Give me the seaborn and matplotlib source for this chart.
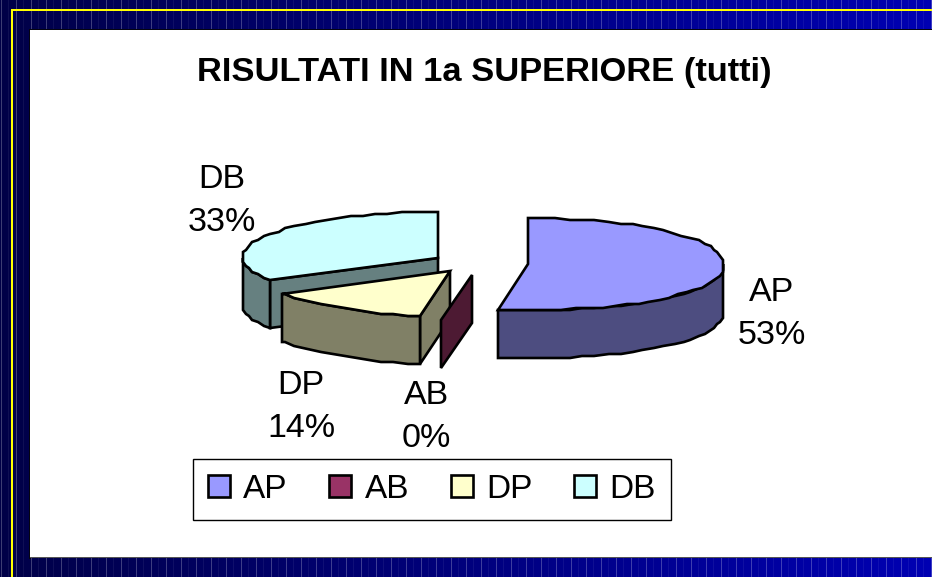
import numpy as np
import seaborn as sns
import matplotlib.pyplot as plt
from matplotlib.colors import to_rgb
from matplotlib.patches import Patch, Rectangle

titolo = "RISULTATI IN 1a SUPERIORE (tutti)"
categorie = ["AP", "AB", "DP", "DB"]
percentuali = [53, 0, 14, 33]
colori = ["#9999FF", "#993366", "#FFFFCC", "#CCFFFF"]

# stile: posizione del vertice di ogni fetta e delle etichette (pixel)
vertici = [(528, 264), (472, 275), (450, 271), (438, 258)]
pos_etichette = [(772, 314), (426, 417), (301, 407), (222, 201)]
rx, ry, spessore = 196, 46, 48

sns.set_theme(style="white")
plt.rcParams["font.family"] = ["Liberation Sans", "DejaVu Sans"]

fig = plt.figure(figsize=(9.32, 5.77), dpi=100)
ax = fig.add_axes([0, 0, 1, 1])

# sfondo blu a righe verticali
t = np.linspace(0, 1, 932)
sfondo = np.zeros((1, 932, 3))
sfondo[0, :, 2] = 0.28 + 0.42 * t
righe = np.zeros(932)
righe[1::15] = 0.24
righe[8::15] = 0.06
sfondo[0] = sfondo[0] + righe[:, None] * (1 - sfondo[0])
ax.imshow(sfondo, extent=(0, 932, 577, 0), aspect="auto", interpolation="nearest", zorder=0)
ax.add_patch(Rectangle((11, 9), 921, 2, color="#FFFF00", lw=0, antialiased=False, zorder=1))
ax.add_patch(Rectangle((11, 9), 2, 568, color="#FFFF00", lw=0, antialiased=False, zorder=1))
ax.add_patch(Rectangle((28.5, 28.5), 904, 2, color="#050510", lw=0, zorder=1))
ax.add_patch(Rectangle((28.5, 28.5), 2, 530, color="#050510", lw=0, zorder=1))
ax.add_patch(Rectangle((30, 30), 902, 527, color="white", lw=0, zorder=2))
ax.add_patch(Rectangle((30, 556.5), 902, 1.6, color="#555555", lw=0, zorder=2))


def scurisci(col):
    return tuple(c * 0.5 for c in to_rgb(col))


def ellisse(c, a, b):
    # arco dell'ellisse, leggero scorcio nella parte davanti, punti arrotondati come nel metafile
    th = np.radians(np.r_[np.arange(a, b, 4.0), b])
    x = c[0] + rx * np.sin(th) + 7 * np.maximum(0, -np.cos(th))
    y = c[1] - ry * np.cos(th)
    return np.round(x / 3) * 3, np.round(y / 2) * 2


bordo = dict(edgecolor="black", linewidth=1.9, joinstyle="miter")
cum = np.cumsum([0] + percentuali) * 3.6

# ordine di disegno: dalla fetta dietro a quella davanti
for i in [3, 2, 1, 0]:
    a, b = cum[i], cum[i + 1]
    c = vertici[i]
    col = colori[i]
    sc = scurisci(col)
    z = 5 + (3 - i)
    # parete radiale visibile
    if i > 0:
        ex, ey = ellisse(c, a, a)
        ax.fill([c[0], ex[0], ex[0], c[0]], [c[1], ey[0], ey[0] + spessore, c[1] + spessore], facecolor=sc, zorder=z, **bordo)
    if b > a:
        # parete esterna: solo la parte sotto l'ellisse (90-270 gradi)
        ea, eb = max(a, 90), min(b, 270)
        x, y = ellisse(c, ea, eb)
        ax.fill(np.r_[x, x[::-1]], np.r_[y, y[::-1] + spessore], facecolor=sc, zorder=z, **bordo)
        # faccia superiore
        x, y = ellisse(c, a, b)
        ax.fill(np.r_[c[0], x], np.r_[c[1], y], facecolor=col, zorder=z, **bordo)

for nome, val, pos in zip(categorie, percentuali, pos_etichette):
    ax.text(pos[0], pos[1], f"{nome}\n{val}%", ha="center", va="center", fontsize=24.5, color="black",
            linespacing=1.49, zorder=20)

ax.text(484, 72, titolo, ha="center", va="center", fontsize=24.8, fontweight="bold", color="black", zorder=20)

maniglie = [Patch(facecolor=col, edgecolor="black", linewidth=1.9) for col in colori]
leg = ax.legend(maniglie, categorie, ncols=4, loc="center", bbox_to_anchor=(432, 489), bbox_transform=ax.transData,
                fontsize=24, frameon=True, fancybox=False, edgecolor="black", framealpha=1, handlelength=0.66,
                handleheight=0.66, handletextpad=0.4, columnspacing=1.25, borderpad=0.45, borderaxespad=0,
                labelcolor="black")
leg.get_frame().set_linewidth(1.0)
leg.set_zorder(20)

ax.set_xlim(0, 932)
ax.set_ylim(577, 0)
ax.axis("off")
fig.savefig("out.png", dpi=100)
